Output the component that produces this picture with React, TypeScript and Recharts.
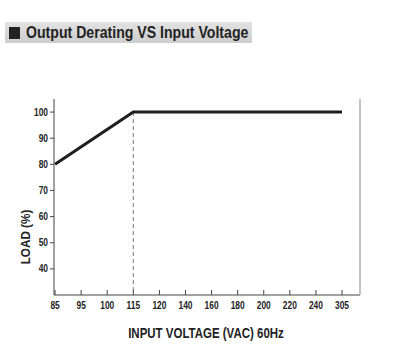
import React from 'react';
import { LineChart, Line, XAxis, YAxis, ReferenceLine } from 'recharts';

const xLabels = ['85', '95', '100', '115', '120', '140', '160', '180', '200', '220', '240', '305'];
const voltages = [85, 115, 305];
const loads = [80, 100, 100];
const yTicks = [40, 50, 60, 70, 80, 90, 100];
const cornerVoltage = 115;

const data = voltages.map((v, i) => ({ idx: xLabels.indexOf(String(v)), load: loads[i] }));
const cornerIdx = xLabels.indexOf(String(cornerVoltage));
const xTicks = xLabels.map((_, i) => i);

const FONT = '"Liberation Sans", Arial, sans-serif';
const NARROW = 0.84;

const XTick = (props: any) => {
  const { x, y, payload } = props;
  return (
    <g transform={`translate(${x},${y})`}>
      <text transform={`scale(${NARROW},1)`} textAnchor="middle" dy="0.71em" fontSize={10} fontWeight="bold" fill="#222" fontFamily={FONT}>
        {xLabels[payload.value]}
      </text>
    </g>
  );
};

const YTick = (props: any) => {
  const { x, y, payload } = props;
  return (
    <g transform={`translate(${x},${y})`}>
      <text transform={`scale(${NARROW},1)`} textAnchor="end" dy="0.355em" fontSize={10} fontWeight="bold" fill="#222" fontFamily={FONT}>
        {payload.value}
      </text>
    </g>
  );
};

export default function App() {
  return (
    <div style={{ position: 'absolute', left: 0, top: 0, width: 393, height: 352, background: '#fff', fontFamily: FONT }}>
      <div style={{ position: 'absolute', left: 5, top: 22, width: 247, height: 21, background: 'linear-gradient(#e2e2e2, #cdcdcd)' }} />
      <div style={{ position: 'absolute', left: 9, top: 27, width: 11, height: 12, background: '#222' }} />
      <div style={{ position: 'absolute', left: 26, top: 22, height: 21, lineHeight: '21px', fontSize: 17, fontWeight: 'bold', color: '#222', whiteSpace: 'nowrap', transform: 'scaleX(0.83)', transformOrigin: 'left center' }}>
        Output Derating VS Input Voltage
      </div>
      <div style={{ position: 'absolute', left: 0, top: 0 }}>
        <LineChart width={393} height={352} data={data} margin={{ top: 99, left: 14, right: 33, bottom: 27 }}>
          <XAxis
            dataKey="idx"
            type="number"
            domain={[-0.04, 11.69]}
            ticks={xTicks}
            interval={0}
            allowDataOverflow
            stroke="#444"
            tickSize={-5}
            tickMargin={12}
            height={30}
            tick={<XTick />}
          />
          <XAxis xAxisId="top" orientation="top" dataKey="idx" type="number" domain={[-0.04, 11.69]} tick={false} height={0} stroke="#999" />
          <YAxis
            type="number"
            domain={[30, 105]}
            ticks={yTicks}
            interval={0}
            allowDataOverflow
            width={40}
            stroke="#444"
            tickSize={4}
            tickMargin={2}
            tick={<YTick />}
          />
          <YAxis
            yAxisId="right"
            orientation="right"
            type="number"
            domain={[30, 105]}
            ticks={yTicks}
            interval={0}
            width={1}
            mirror
            tickSize={4}
            tickFormatter={() => ''}
            stroke="#888"
          />
          <ReferenceLine
            segment={[{ x: cornerIdx, y: 100 }, { x: cornerIdx, y: 30 }]}
            stroke="#777"
            strokeDasharray="4 3"
            strokeWidth={1}
            ifOverflow="visible"
          />
          <Line dataKey="load" stroke="#1e1e1e" strokeWidth={3} dot={false} isAnimationActive={false} />
        </LineChart>
      </div>
      <div style={{ position: 'absolute', left: 25, top: 237, transform: 'translate(-50%, -50%) rotate(-90deg) scaleX(0.9)', fontSize: 13, fontWeight: 'bold', color: '#222', whiteSpace: 'nowrap' }}>
        LOAD (%)
      </div>
      <div style={{ position: 'absolute', left: 206, top: 333, transform: 'translate(-50%, -50%) scaleX(0.82)', fontSize: 14, fontWeight: 'bold', color: '#222', whiteSpace: 'nowrap' }}>
        INPUT VOLTAGE (VAC) 60Hz
      </div>
    </div>
  );
}
